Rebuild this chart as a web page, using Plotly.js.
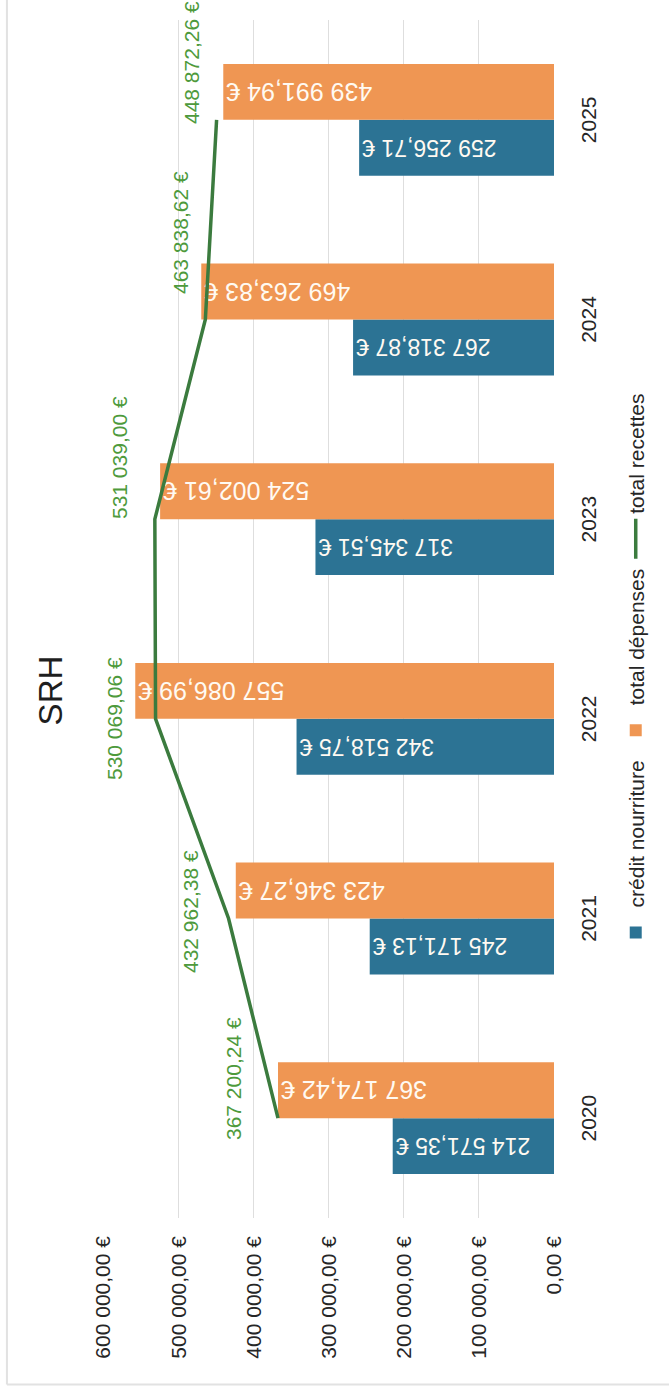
<!DOCTYPE html>
<html>
<head>
<meta charset="utf-8">
<script src="https://cdn.plot.ly/plotly-3.0.1.min.js"></script>
<style>
html, body { margin:0; padding:0; width:669px; height:1395px; overflow:hidden; background:#ffffff; }
#chart { position:absolute; left:0; top:0; width:1395px; height:669px;
  transform-origin:0 0; transform: translate(0px, 1395px) rotate(-90deg); }
</style>
</head>
<body>
<div id="chart"></div>
<script>
// ---- data ----
const years = ['2020', '2021', '2022', '2023', '2024', '2025'];
const creditNourriture = [214571.35, 245171.13, 342518.75, 317345.51, 267318.87, 259256.71];
const totalDepenses = [367174.42, 423346.27, 557086.99, 524002.61, 469263.83, 439991.94];
const totalRecettes = [367200.24, 432962.38, 530069.06, 531039.00, 463838.62, 448872.26];
const seriesNames = ['crédit nourriture', 'total dépenses', 'total recettes'];
const chartTitle = 'SRH';

// ---- style / label placement ----
const FONT = 'Arial, "Liberation Sans", sans-serif';
const BLUE = '#2c7394', ORANGE = '#ef9653', LINE_GREEN = '#3b7b3e', LABEL_GREEN = '#4e9a3c';
const labelDx = [40, 7, 0, 62, 87, 57];
const labelDy = [44, 38, 41, 35, 25, 25];

function fmt(v) {
  const parts = v.toFixed(2).split('.');
  const intPart = parts[0].replace(/\B(?=(\d{3})+(?!\d))/g, ' ');
  return intPart + ',' + parts[1] + ' €';
}

const traces = [
  { type: 'bar', name: seriesNames[0], x: years, y: creditNourriture,
    marker: { color: BLUE },
    texttemplate: '%{y:,.2f} €', textposition: 'inside', insidetextanchor: 'end',
    textangle: -90, constraintext: 'none',
    insidetextfont: { family: FONT, size: 23, color: '#fffaf2' } },
  { type: 'bar', name: seriesNames[1], x: years, y: totalDepenses,
    marker: { color: ORANGE },
    texttemplate: '%{y:,.2f} €', textposition: 'inside', insidetextanchor: 'end',
    textangle: -90, constraintext: 'none',
    insidetextfont: { family: FONT, size: 25, color: '#fffaf2' } },
  { type: 'scatter', mode: 'lines', name: seriesNames[2], x: years, y: totalRecettes,
    line: { color: LINE_GREEN, width: 3.5 } }
];

// annotation x on a category axis = category index
const annotations = years.map((yr, i) => ({
  x: i, y: totalRecettes[i], xref: 'x', yref: 'y',
  text: fmt(totalRecettes[i]), showarrow: false,
  xshift: labelDx[i], yshift: labelDy[i], xanchor: 'center', yanchor: 'middle',
  font: { family: FONT, size: 21, color: LABEL_GREEN }
}));

const layout = {
  width: 1395, height: 669,
  margin: { l: 177, r: 20, t: 103, b: 111 },
  paper_bgcolor: '#ffffff', plot_bgcolor: '#ffffff',
  separators: ', ',
  font: { family: FONT, color: '#262626' },
  title: { text: chartTitle, x: 0.505, xref: 'container', xanchor: 'center',
           y: 0.925, yref: 'container', yanchor: 'middle',
           font: { family: FONT, size: 33, color: '#1e1e1e' } },
  barmode: 'group', bargap: 0.44, bargroupgap: 0,
  xaxis: { type: 'category', range: [-0.5, years.length - 0.5], autorange: false,
           showgrid: false, zeroline: false, showline: false,
           ticks: '', ticklabelstandoff: 20,
           tickfont: { family: FONT, size: 21, color: '#262626' } },
  yaxis: { range: [0, 600000], autorange: false, dtick: 100000, tickformat: ',.2f', ticksuffix: ' €',
           showgrid: true, gridcolor: '#dedede', gridwidth: 1,
           zeroline: false, showline: false, ticks: '', ticklabelstandoff: 17,
           tickfont: { family: FONT, size: 21, color: '#262626' } },
  legend: { orientation: 'h', x: 0.455, xanchor: 'center', y: -0.182, yanchor: 'middle',
            font: { family: FONT, size: 21, color: '#262626' },
            itemwidth: 40, traceorder: 'normal' },
  annotations: annotations,
  shapes: [
    { type: 'line', xref: 'paper', yref: 'paper', x0: -0.139, x1: 1.1, y0: 1.213, y1: 1.213,
      line: { color: '#e2e2e2', width: 2 } },
    { type: 'line', xref: 'paper', yref: 'paper', x0: -0.139, x1: -0.139, y0: -0.3, y1: 1.213,
      line: { color: '#e2e2e2', width: 2 } }
  ],
  showlegend: true
};

Plotly.newPlot('chart', traces, layout, { displayModeBar: false, staticPlot: true });
</script>
</body>
</html>
